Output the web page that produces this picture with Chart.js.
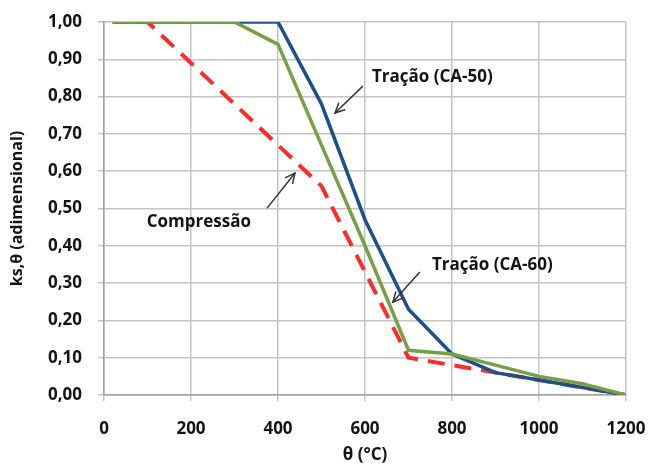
<!DOCTYPE html>
<html>
<head>
<meta charset="utf-8">
<script src="https://cdn.jsdelivr.net/npm/chart.js@4/dist/chart.umd.min.js"></script>
<style>
html,body{margin:0;padding:0;background:#fff;}
#wrap{width:652px;height:471px;position:relative;}
</style>
</head>
<body>
<div id="wrap"><canvas id="c" width="652" height="471"></canvas></div>
<script>
// Temperatures (°C)
const temperatures = [20, 100, 200, 300, 400, 500, 600, 700, 800, 900, 1000, 1100, 1200];
// Reduction factors ks,θ
const tracaoCA50 = [1.00, 1.00, 1.00, 1.00, 1.00, 0.78, 0.47, 0.23, 0.11, 0.06, 0.04, 0.02, 0.00];
const tracaoCA60 = [1.00, 1.00, 1.00, 1.00, 0.94, 0.67, 0.40, 0.12, 0.11, 0.08, 0.05, 0.03, 0.00];
const compressao = [1.00, 1.00, 0.89, 0.78, 0.67, 0.56, 0.33, 0.10, 0.08, 0.06, 0.04, 0.02, 0.00];
const xTicks = [0, 200, 400, 600, 800, 1000, 1200];
const yTicks = [0, 0.1, 0.2, 0.3, 0.4, 0.5, 0.6, 0.7, 0.8, 0.9, 1.0];
// Annotation labels (positions in data units)
const annotations = [
  {text: 'Tração (CA-50)', tx: 616, ty: 0.853, align: 'left', ax0: 595, ay0: 0.828, ax1: 531, ay1: 0.756},
  {text: 'Compressão', tx: 218, ty: 0.464, align: 'center', ax0: 375, ay0: 0.501, ax1: 439, ay1: 0.595},
  {text: 'Tração (CA-60)', tx: 754, ty: 0.349, align: 'left', ax0: 726, ay0: 0.33, ax1: 664, ay1: 0.249}
];

const FONT = '"Open Sans", "DejaVu Sans", sans-serif';
const TXT = '#141414';
const GRID = '#c4c4c4';

function pts(ys){ return temperatures.map((t,i)=>({x:t, y:ys[i]})); }

const annotPlugin = {
  id: 'annot',
  afterDatasetsDraw(chart){
    const ctx = chart.ctx, xs = chart.scales.x, ys = chart.scales.y;
    ctx.save();
    annotations.forEach(a=>{
      ctx.font = 'bold 17px ' + FONT;
      ctx.fillStyle = TXT;
      ctx.textAlign = a.align;
      ctx.textBaseline = 'middle';
      ctx.fillText(a.text, xs.getPixelForValue(a.tx), ys.getPixelForValue(a.ty));
      const x0 = xs.getPixelForValue(a.ax0), y0 = ys.getPixelForValue(a.ay0);
      const x1 = xs.getPixelForValue(a.ax1), y1 = ys.getPixelForValue(a.ay1);
      ctx.strokeStyle = '#333';
      ctx.lineWidth = 1.5;
      ctx.beginPath(); ctx.moveTo(x0,y0); ctx.lineTo(x1,y1); ctx.stroke();
      const ang = Math.atan2(y1-y0, x1-x0), L = 11, w = 0.45;
      ctx.beginPath();
      ctx.moveTo(x1 - L*Math.cos(ang-w), y1 - L*Math.sin(ang-w));
      ctx.lineTo(x1, y1);
      ctx.lineTo(x1 - L*Math.cos(ang+w), y1 - L*Math.sin(ang+w));
      ctx.stroke();
    });
    ctx.restore();
  }
};

function noPad(s){ s.paddingTop = 0; s.paddingBottom = 0; s.paddingLeft = 0; s.paddingRight = 0; }

new Chart(document.getElementById('c'), {
  type: 'scatter',
  data: {
    datasets: [
      {label: 'Compressão', data: pts(compressao), showLine: true, borderColor: '#ff2b2b', borderWidth: 4, borderDash: [17, 10], pointRadius: 0, fill: false, order: 3},
      {label: 'Tração (CA-50)', data: pts(tracaoCA50), showLine: true, borderColor: '#1c4f8c', borderWidth: 3.5, pointRadius: 0, fill: false, order: 2},
      {label: 'Tração (CA-60)', data: pts(tracaoCA60), showLine: true, borderColor: '#76a046', borderWidth: 3.5, pointRadius: 0, fill: false, order: 1}
    ]
  },
  options: {
    responsive: false,
    animation: false,
    layout: {padding: {top: 22, right: 26, left: 8, bottom: 0}},
    plugins: {legend: {display: false}, tooltip: {enabled: false}},
    scales: {
      x: {
        type: 'linear', min: 0, max: 1200,
        afterBuildTicks(s){ s.ticks = xTicks.map(v=>({value:v})); },
        afterFit(s){ s.height = 76; noPad(s); },
        grid: {color: GRID, lineWidth: 1.5, tickLength: 6, drawTicks: true},
        border: {color: '#a0a0a0', width: 1.5},
        ticks: {color: TXT, font: {family: FONT, size: 17, weight: 'bold'}, padding: 18, maxRotation: 0, autoSkip: false,
          callback: v => String(v)},
        title: {display: true, text: 'θ (°C)', color: TXT, font: {family: FONT, size: 17, weight: 'bold'}, padding: {top: 4, bottom: 6}}
      },
      y: {
        min: 0, max: 1,
        afterBuildTicks(s){ s.ticks = yTicks.map(v=>({value:v})); },
        afterFit(s){ s.width = 96; noPad(s); },
        grid: {color: GRID, lineWidth: 1.5, tickLength: 6, drawTicks: true},
        border: {color: '#a0a0a0', width: 1.5},
        ticks: {color: TXT, font: {family: FONT, size: 17, weight: 'bold'}, padding: 16, autoSkip: false,
          callback: v => v.toFixed(2).replace('.', ',')},
        title: {display: true, text: 'ks,θ (adimensional)', color: TXT, font: {family: FONT, size: 16, weight: 'bold'}, padding: {top: 0, bottom: 0}}
      }
    }
  },
  plugins: [annotPlugin]
});
</script>
</body>
</html>
